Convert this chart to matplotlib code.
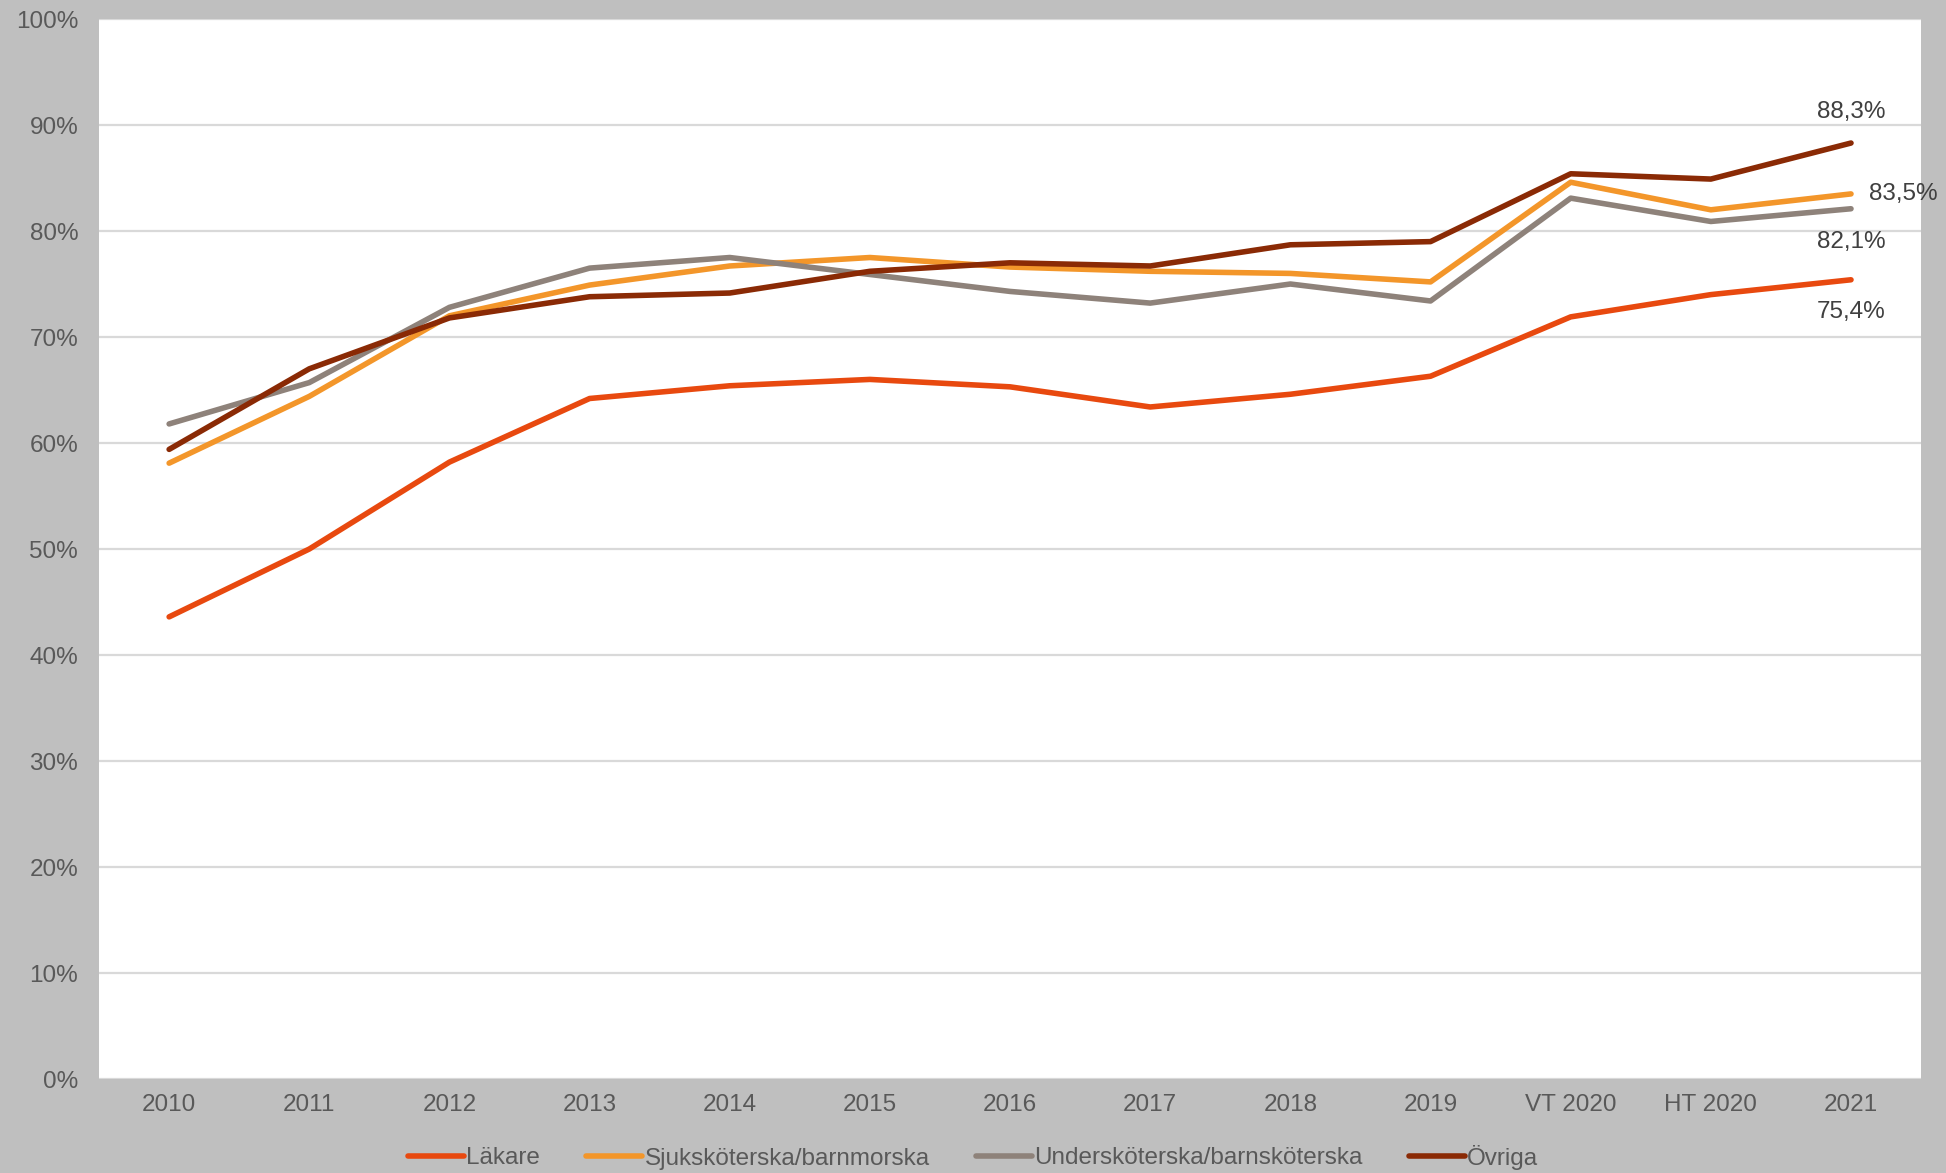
import matplotlib.pyplot as plt
import matplotlib.ticker as mtick

plt.rcParams['font.family'] = ['Liberation Sans', 'DejaVu Sans']

# data (andel i procent)
kategorier = ["2010", "2011", "2012", "2013", "2014", "2015", "2016", "2017",
              "2018", "2019", "VT 2020", "HT 2020", "2021"]
lakare = [43.6, 50.0, 58.2, 64.2, 65.4, 66.0, 65.3, 63.4, 64.6, 66.3, 71.9, 74.0, 75.4]
sjuk = [58.1, 64.4, 72.0, 74.9, 76.7, 77.5, 76.6, 76.2, 76.0, 75.2, 84.6, 82.0, 83.5]
under = [61.8, 65.7, 72.8, 76.5, 77.5, 75.9, 74.3, 73.2, 75.0, 73.4, 83.1, 80.9, 82.1]
ovriga = [59.4, 67.0, 71.8, 73.8, 74.15, 76.2, 77.0, 76.7, 78.7, 79.0, 85.4, 84.9, 88.3]

namn = ["Läkare", "Sjuksköterska/barnmorska", "Undersköterska/barnsköterska", "Övriga"]
farger = ["#E8490F", "#F3962A", "#8E827A", "#8A2A05"]
serier = [lakare, sjuk, under, ovriga]
# etikett-offset (punkter) för sista värdet
offsets = [(0, -23, 'center'), (13, 0, 'left'), (0, -24, 'center'), (0, 22, 'center')]

textfarg = "#595959"
fs = 17.5

fig = plt.figure(figsize=(19.46, 11.73), dpi=100, facecolor="#BFBFBF")
ax = fig.add_axes([0.0509, 0.0801, 0.9363, 0.9037])
ax.set_facecolor("white")

x = list(range(len(kategorier)))
for s, n, c, off in zip(serier, namn, farger, offsets):
    ax.plot(x, s, color=c, lw=4, label=n, solid_capstyle='round', solid_joinstyle='round', zorder=3)
    etikett = f"{s[-1]:.1f}%".replace(".", ",")
    ax.annotate(etikett, (x[-1], s[-1]), xytext=(off[0], off[1]), textcoords="offset points",
                ha=off[2], va="center", fontsize=fs, color="#404040", zorder=4)

ax.set_xlim(-0.5, len(kategorier) - 0.5)
ax.set_ylim(0, 100)
ax.set_yticks(range(0, 101, 10))
ax.yaxis.set_major_formatter(mtick.PercentFormatter(decimals=0))
ax.set_xticks(x)
ax.set_xticklabels(kategorier)
ax.grid(axis="y", color="#D9D9D9", lw=1.6, zorder=0)
for sp in ax.spines.values():
    sp.set_visible(False)
ax.tick_params(axis="both", length=0, labelsize=fs, colors=textfarg)
ax.tick_params(axis="y", pad=15)
ax.tick_params(axis="x", pad=11)

fig.legend(loc="center", bbox_to_anchor=(0.5, 1 - 1157 / 1173), ncol=4, frameon=False,
           fontsize=fs, labelcolor=textfarg, handlelength=2.3, handletextpad=0.1,
           columnspacing=1.9)

fig.savefig("out.png", dpi=100, facecolor=fig.get_facecolor())
